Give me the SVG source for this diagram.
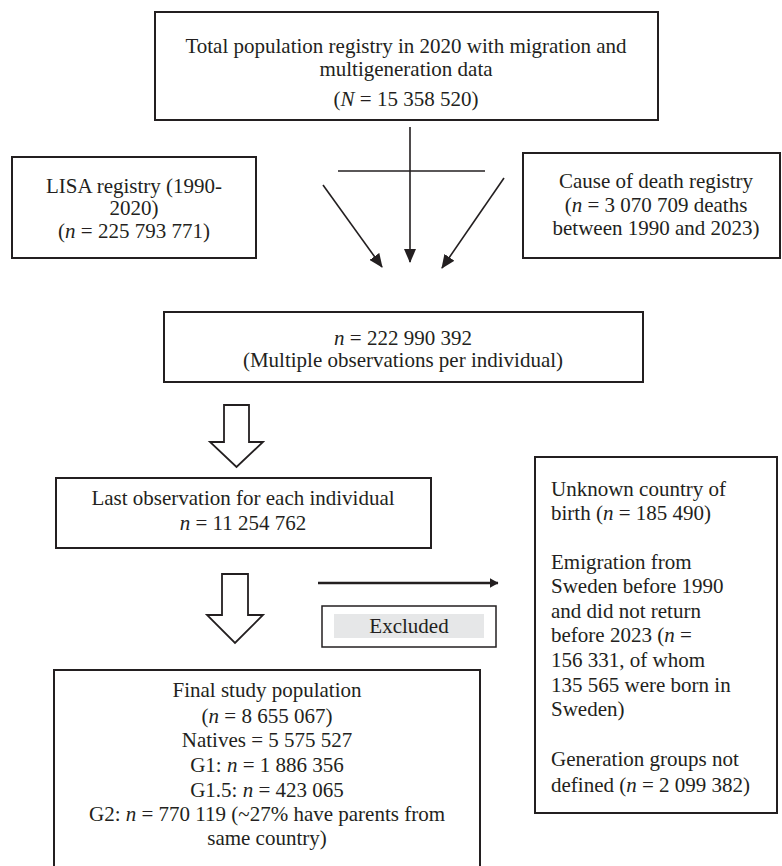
<svg xmlns="http://www.w3.org/2000/svg" width="782" height="866" viewBox="0 0 782 866">
<style>
text{font-family:"Liberation Serif","Times New Roman",serif;font-size:21px;fill:#231f20}
.c{text-anchor:middle}
.i{font-style:italic}
.box{fill:#fff;stroke:#231f20;stroke-width:2}
.ln{stroke:#231f20;stroke-width:1.6;fill:none}
.blk{fill:#fff;stroke:#231f20;stroke-width:1.8;stroke-linejoin:miter}
</style>
<defs>
<marker id="ah" markerUnits="userSpaceOnUse" markerWidth="14" markerHeight="12" viewBox="0 0 14 12" refX="13" refY="6" orient="auto">
<path d="M0,0 L14,6 L0,12 Z" fill="#231f20"/>
</marker>
<marker id="ah2" markerUnits="userSpaceOnUse" markerWidth="9" markerHeight="10" viewBox="0 0 9 10" refX="8.5" refY="5" orient="auto">
<path d="M0,0 L9,5 L0,10 Z" fill="#231f20"/>
</marker>
</defs>

<g id="total">
<rect class="box" x="155" y="12" width="503" height="108"/>
<text class="c" x="406" y="53">Total population registry in 2020 with migration and</text>
<text class="c" x="406" y="76">multigeneration data</text>
<text class="c" x="406" y="106">(<tspan class="i">N</tspan> = 15 358 520)</text>
</g>

<g id="lisa">
<rect class="box" x="12" y="157" width="244" height="101"/>
<text class="c" x="134" y="193">LISA registry (1990-</text>
<text class="c" x="134" y="215">2020)</text>
<text class="c" x="134" y="238">(<tspan class="i">n</tspan> = 225 793 771)</text>
</g>

<g id="cause">
<rect class="box" x="523" y="153" width="257" height="105"/>
<text class="c" x="656" y="188">Cause of death registry</text>
<text class="c" x="656" y="212">(<tspan class="i">n</tspan> = 3 070 709 deaths</text>
<text class="c" x="656" y="235">between 1990 and 2023)</text>
</g>

<g id="merged">
<rect class="box" x="164" y="312" width="479" height="70"/>
<text class="c" x="403" y="345"><tspan class="i">n</tspan> = 222 990 392</text>
<text class="c" x="403" y="367">(Multiple observations per individual)</text>
</g>

<g id="last">
<rect class="box" x="56" y="478" width="375" height="70"/>
<text class="c" x="243" y="505">Last observation for each individual</text>
<text class="c" x="243" y="530"><tspan class="i">n</tspan> = 11 254 762</text>
</g>

<g id="excludedlist">
<rect class="box" x="535" y="457" width="242" height="356"/>
<text x="551" y="496">Unknown country of</text>
<text x="551" y="520">birth (<tspan class="i">n</tspan> = 185 490)</text>
<text x="551" y="569">Emigration from</text>
<text x="551" y="593">Sweden before 1990</text>
<text x="551" y="618">and did not return</text>
<text x="551" y="642">before 2023 (<tspan class="i">n</tspan> =</text>
<text x="551" y="667">156 331, of whom</text>
<text x="551" y="692">135 565 were born in</text>
<text x="551" y="716">Sweden)</text>
<text x="551" y="766">Generation groups not</text>
<text x="551" y="792">defined (<tspan class="i">n</tspan> = 2 099 382)</text>
</g>

<g id="excludedlabel">
<rect x="322" y="606" width="174" height="41" fill="#fff" stroke="#231f20" stroke-width="1.5"/>
<rect x="334" y="614" width="150" height="24" fill="#e6e7e8"/>
<text class="c" x="409" y="633">Excluded</text>
</g>

<g id="final">
<rect class="box" x="54" y="670" width="426" height="210"/>
<text class="c" x="267" y="697">Final study population</text>
<text class="c" x="267" y="723">(<tspan class="i">n</tspan> = 8 655 067)</text>
<text class="c" x="267" y="747">Natives = 5 575 527</text>
<text class="c" x="267" y="772">G1: <tspan class="i">n</tspan> = 1 886 356</text>
<text class="c" x="267" y="797">G1.5: <tspan class="i">n</tspan> = 423 065</text>
<text class="c" x="267" y="821">G2: <tspan class="i">n</tspan> = 770 119 (~27% have parents from</text>
<text class="c" x="267" y="845">same country)</text>
</g>

<g id="connectors">
<line class="ln" x1="410" y1="127" x2="410" y2="262" marker-end="url(#ah)"/>
<line class="ln" x1="338" y1="171" x2="485" y2="171"/>
<line class="ln" x1="323" y1="185" x2="382" y2="267" marker-end="url(#ah)"/>
<line class="ln" x1="504" y1="178" x2="442" y2="268" marker-end="url(#ah)"/>
<path class="blk" d="M224,405 L249,405 L249,442 L263,442 L236.5,467 L210,442 L224,442 Z"/>
<path class="blk" d="M222,574 L248,574 L248,615 L263,615 L235,643 L207,615 L222,615 Z"/>
<line x1="318" y1="583" x2="498" y2="583" stroke="#231f20" stroke-width="2.6" marker-end="url(#ah2)"/>
</g>
</svg>
